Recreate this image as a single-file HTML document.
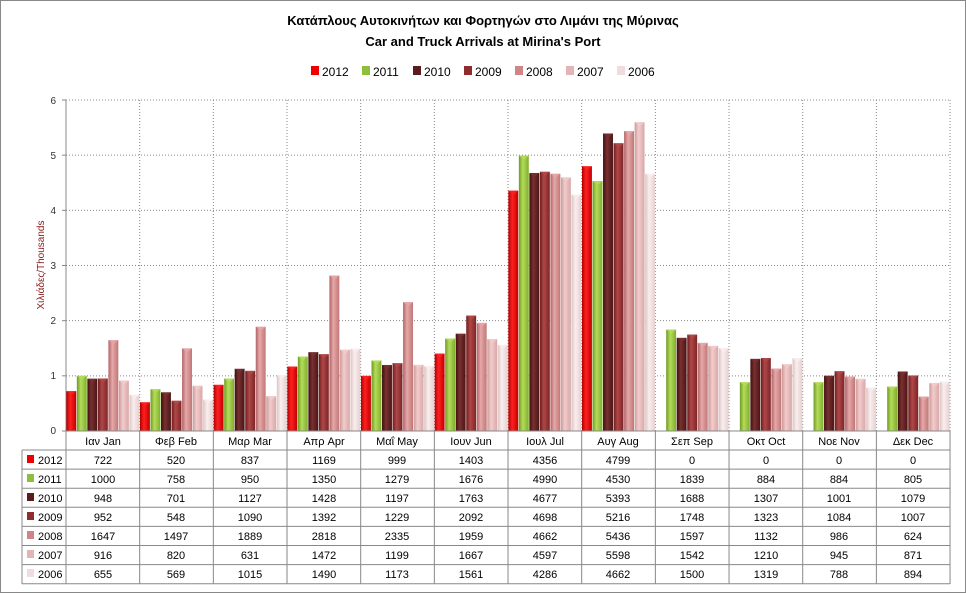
<!DOCTYPE html>
<html><head><meta charset="utf-8"><style>
html,body{margin:0;padding:0;background:#fff}
svg{display:block;font-family:"Liberation Sans","DejaVu Sans",sans-serif}
</style></head><body>
<svg id="s" width="966" height="593" viewBox="0 0 966 593" xmlns="http://www.w3.org/2000/svg">
<defs>
</defs>
<rect x="0.5" y="0.5" width="965" height="592" fill="#fff" stroke="#888"/>
<text x="483" y="25" text-anchor="middle" font-size="13" font-weight="bold" fill="#000">Κατάπλους Αυτοκινήτων και Φορτηγών στο Λιμάνι της Μύρινας</text>
<text x="483" y="46" text-anchor="middle" font-size="13" font-weight="bold" fill="#000">Car and Truck Arrivals at Mirina's Port</text>
<g font-size="12" fill="#000">
<rect x="311" y="66" width="8" height="9" fill="#e00"/><text x="322" y="76">2012</text>
<rect x="362" y="66" width="8" height="9" fill="#8fbf3a"/><text x="373" y="76">2011</text>
<rect x="413" y="66" width="8" height="9" fill="#5a1c1c"/><text x="424" y="76">2010</text>
<rect x="464" y="66" width="8" height="9" fill="#8e2c2e"/><text x="475" y="76">2009</text>
<rect x="515" y="66" width="8" height="9" fill="#cf8586"/><text x="526" y="76">2008</text>
<rect x="566" y="66" width="8" height="9" fill="#e3b4b4"/><text x="577" y="76">2007</text>
<rect x="617" y="66" width="8" height="9" fill="#f0dcdc"/><text x="628" y="76">2006</text>
</g>
<text transform="translate(44,265) rotate(-90)" text-anchor="middle" font-size="10" fill="#8b1a1a">Χιλιάδες/Thousands</text>
<g font-size="10" fill="#333" text-anchor="end">
<text x="56" y="104">6</text><text x="56" y="159">5</text><text x="56" y="214">4</text>
<text x="56" y="269">3</text><text x="56" y="324">2</text><text x="56" y="379">1</text><text x="56" y="434">0</text>
</g>
<g id="grid"></g>
<g id="bars"></g>
<g id="tbl" stroke="#888" fill="none"></g>
<g font-size="11" fill="#000" text-anchor="middle">
<text x="103" y="445">Ιαν  Jan</text><text x="176" y="445">Φεβ  Feb</text><text x="250" y="445">Μαρ  Mar</text><text x="324" y="445">Απρ  Apr</text><text x="397" y="445">Μαΐ  May</text><text x="471" y="445">Ιουν  Jun</text><text x="545" y="445">Ιουλ  Jul</text><text x="618" y="445">Αυγ  Aug</text><text x="692" y="445">Σεπ  Sep</text><text x="766" y="445">Οκτ  Oct</text><text x="839" y="445">Νοε  Nov</text><text x="913" y="445">Δεκ  Dec</text>
</g>
<g font-size="11" fill="#000" text-anchor="middle">
<text x="103" y="464">722</text><text x="176" y="464">520</text><text x="250" y="464">837</text><text x="324" y="464">1169</text><text x="397" y="464">999</text><text x="471" y="464">1403</text><text x="545" y="464">4356</text><text x="618" y="464">4799</text><text x="692" y="464">0</text><text x="766" y="464">0</text><text x="839" y="464">0</text><text x="913" y="464">0</text>
<text x="103" y="483">1000</text><text x="176" y="483">758</text><text x="250" y="483">950</text><text x="324" y="483">1350</text><text x="397" y="483">1279</text><text x="471" y="483">1676</text><text x="545" y="483">4990</text><text x="618" y="483">4530</text><text x="692" y="483">1839</text><text x="766" y="483">884</text><text x="839" y="483">884</text><text x="913" y="483">805</text>
<text x="103" y="502">948</text><text x="176" y="502">701</text><text x="250" y="502">1127</text><text x="324" y="502">1428</text><text x="397" y="502">1197</text><text x="471" y="502">1763</text><text x="545" y="502">4677</text><text x="618" y="502">5393</text><text x="692" y="502">1688</text><text x="766" y="502">1307</text><text x="839" y="502">1001</text><text x="913" y="502">1079</text>
<text x="103" y="521">952</text><text x="176" y="521">548</text><text x="250" y="521">1090</text><text x="324" y="521">1392</text><text x="397" y="521">1229</text><text x="471" y="521">2092</text><text x="545" y="521">4698</text><text x="618" y="521">5216</text><text x="692" y="521">1748</text><text x="766" y="521">1323</text><text x="839" y="521">1084</text><text x="913" y="521">1007</text>
<text x="103" y="540">1647</text><text x="176" y="540">1497</text><text x="250" y="540">1889</text><text x="324" y="540">2818</text><text x="397" y="540">2335</text><text x="471" y="540">1959</text><text x="545" y="540">4662</text><text x="618" y="540">5436</text><text x="692" y="540">1597</text><text x="766" y="540">1132</text><text x="839" y="540">986</text><text x="913" y="540">624</text>
<text x="103" y="559">916</text><text x="176" y="559">820</text><text x="250" y="559">631</text><text x="324" y="559">1472</text><text x="397" y="559">1199</text><text x="471" y="559">1667</text><text x="545" y="559">4597</text><text x="618" y="559">5598</text><text x="692" y="559">1542</text><text x="766" y="559">1210</text><text x="839" y="559">945</text><text x="913" y="559">871</text>
<text x="103" y="578">655</text><text x="176" y="578">569</text><text x="250" y="578">1015</text><text x="324" y="578">1490</text><text x="397" y="578">1173</text><text x="471" y="578">1561</text><text x="545" y="578">4286</text><text x="618" y="578">4662</text><text x="692" y="578">1500</text><text x="766" y="578">1319</text><text x="839" y="578">788</text><text x="913" y="578">894</text>
</g>
<g font-size="11" fill="#000">
<rect x="27" y="455" width="7" height="8" fill="#e00"/><text x="38" y="464">2012</text>
<rect x="27" y="474" width="7" height="8" fill="#8fbf3a"/><text x="38" y="483">2011</text>
<rect x="27" y="493" width="7" height="8" fill="#5a1c1c"/><text x="38" y="502">2010</text>
<rect x="27" y="512" width="7" height="8" fill="#8e2c2e"/><text x="38" y="521">2009</text>
<rect x="27" y="531" width="7" height="8" fill="#cf8586"/><text x="38" y="540">2008</text>
<rect x="27" y="550" width="7" height="8" fill="#e3b4b4"/><text x="38" y="559">2007</text>
<rect x="27" y="569" width="7" height="8" fill="#f0dcdc"/><text x="38" y="578">2006</text>
</g>
</svg>
<script>
var NS="http://www.w3.org/2000/svg",s=document.getElementById('s');
function el(p,t,a){var e=document.createElementNS(NS,t);for(var k in a)e.setAttribute(k,a[k]);p.appendChild(e);return e;}
var data=[[722,520,837,1169,999,1403,4356,4799,0,0,0,0],[1000,758,950,1350,1279,1676,4990,4530,1839,884,884,805],[948,701,1127,1428,1197,1763,4677,5393,1688,1307,1001,1079],[952,548,1090,1392,1229,2092,4698,5216,1748,1323,1084,1007],[1647,1497,1889,2818,2335,1959,4662,5436,1597,1132,986,624],[916,820,631,1472,1199,1667,4597,5598,1542,1210,945,871],[655,569,1015,1490,1173,1561,4286,4662,1500,1319,788,894]];
var cols=[["#b00000","#ff2020","#c00000"],["#6f9a22","#b4dc5a","#7fae2c"],["#3d1010","#7a3030","#4a1515"],["#6e1c1e","#b04848","#7c2426"],["#b06466","#e6a8a8","#c07676"],["#cc9a9a","#f2cccc","#d8a8a8"],["#dcc4c4","#faeeee","#e6d0d0"]];
var defs=s.querySelector('defs');
cols.forEach(function(c,i){var g=el(defs,'linearGradient',{id:'g'+i,x1:0,x2:1,y1:0,y2:0});el(g,'stop',{offset:'0','stop-color':c[0]});el(g,'stop',{offset:'0.4','stop-color':c[1]});el(g,'stop',{offset:'1','stop-color':c[2]});});
var X0=66,W=73.67,Y0=431,U=55.17,grid=document.getElementById('grid');
for(var k=1;k<=6;k++)el(grid,'line',{x1:X0,x2:950,y1:Y0-k*U,y2:Y0-k*U,stroke:'#888','stroke-dasharray':'1,2'});
for(var j=1;j<=12;j++)el(grid,'line',{x1:X0+j*W,x2:X0+j*W,y1:100,y2:Y0,stroke:'#888','stroke-dasharray':'1,2'});
el(grid,'line',{x1:X0,x2:X0,y1:100,y2:Y0,stroke:'#888'});
for(var k=0;k<=6;k++)el(grid,'line',{x1:X0-4,x2:X0,y1:Y0-k*U,y2:Y0-k*U,stroke:'#888'});
var bars=document.getElementById('bars'),bw=W/7;
for(var j=0;j<12;j++)for(var i=0;i<7;i++){var v=data[i][j]/1000;if(!v)continue;var h=v*U,x=X0+j*W+i*bw+0.3;
el(bars,'rect',{x:x,y:Y0-h,width:bw-0.6,height:h,fill:'url(#g'+i+')'});
el(bars,'polygon',{points:x+','+(Y0-h)+' '+(x+bw-0.6)+','+(Y0-h)+' '+(x+bw/2)+','+(Y0-h+4),fill:cols[i][1],opacity:0.8});}
var t=document.getElementById('tbl');
el(t,'line',{x1:X0,x2:950,y1:Y0,y2:Y0});
for(var r=0;r<=7;r++){var y=450+r*19.1;el(t,'line',{x1:22,x2:950,y1:y,y2:y});}
for(var j=0;j<=12;j++)el(t,'line',{x1:X0+j*W,x2:X0+j*W,y1:Y0,y2:584});
el(t,'line',{x1:22,x2:22,y1:450,y2:584});
</script>
</body></html>
